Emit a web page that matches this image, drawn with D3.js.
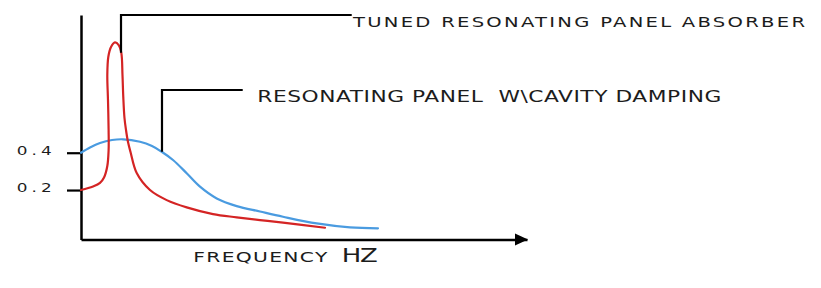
<!DOCTYPE html>
<html>
<head>
<meta charset="utf-8">
<script src="https://cdn.jsdelivr.net/npm/d3@7"></script>
<style>
    body { margin: 0; background: #fff; }
    svg text { font-family: "DejaVu Sans", sans-serif; fill: #1c1c1c; }
</style>
</head>
<body>
<svg id="chart"></svg>
<script>
// absorption coefficient vs frequency (frequency in arbitrary units 0-100)
const yTicks = [0.2, 0.4];

const tunedFreq = [0, 2.69, 4.26, 5.16, 5.90, 6.19, 6.19, 6.05, 5.90, 6.12, 6.73, 7.62, 8.45, 9.04, 9.30,
    9.48, 9.75, 10.09, 10.54, 11.10, 12.49, 15.47, 19.22, 23.70, 29.60, 34.91, 40.13, 45.29, 54.71];
const tunedAbs = [0.200, 0.219, 0.238, 0.267, 0.329, 0.414, 0.522, 0.683, 0.817, 0.913, 0.967, 0.991, 0.977, 0.935, 0.817,
    0.699, 0.586, 0.522, 0.457, 0.404, 0.291, 0.200, 0.146, 0.107, 0.071, 0.054, 0.039, 0.025, -0.002];

const dampedFreq = [0, 2.02, 4.26, 6.95, 9.42, 13.23, 15.92, 18.09, 20.63, 23.70, 26.68, 30.43,
    34.91, 40.13, 45.29, 52.85, 60.31, 66.59];
const dampedAbs = [0.400, 0.428, 0.452, 0.468, 0.472, 0.459, 0.436, 0.405, 0.361, 0.290, 0.218, 0.155,
    0.114, 0.085, 0.057, 0.021, 0.000, -0.005];

const seriesNames = ["TUNED RESONATING PANEL ABSORBER", "RESONATING PANEL  W\\CAVITY DAMPING"];
const xLabel = "FREQUENCY";
const xUnit = "HZ";

const width = 821, height = 288;
const stretch = 1.45; // glyphs in the original are extended

const svg = d3.select("#chart")
    .attr("width", width)
    .attr("height", height);

const x = d3.scaleLinear().domain([0, 100]).range([81, 527]);
const y = d3.scaleLinear().domain([-0.065, 1.138]).range([239.5, 15]);

// wide lettering: scale glyphs horizontally, then fit to the measured width
function wideText(sel, tx, ty, size, len, sx = stretch) {
    sel.attr("transform", `translate(${tx},${ty}) scale(${sx},1)`)
        .attr("x", 0)
        .attr("y", 0)
        .style("font-size", size + "px")
        .attr("textLength", len / sx)
        .attr("lengthAdjust", "spacing");
}

// y axis
const yAxis = svg.append("g")
    .attr("transform", `translate(${x(0)},0)`)
    .call(d3.axisLeft(y)
        .tickValues(yTicks)
        .tickFormat(d3.format(".1f"))
        .tickSize(14)
        .tickPadding(15)
        .tickSizeOuter(0));
yAxis.attr("font-family", null).attr("font-size", null);
yAxis.select(".domain").attr("stroke", "#000").attr("stroke-width", 2.5);
yAxis.selectAll(".tick line").attr("stroke", "#000").attr("stroke-width", 2.2);
yAxis.selectAll(".tick text")
    .attr("text-anchor", "start")
    .attr("dy", null)
    .each(function () { wideText(d3.select(this), 16.7 - x(0), 1.4, 12.5, 35, 1.35); });

// x axis with arrow
const xAxis = svg.append("g")
    .attr("transform", `translate(0,${y.range()[0]})`)
    .call(d3.axisBottom(x).tickValues([]).tickSizeOuter(0));
xAxis.select(".domain").attr("stroke", "#000").attr("stroke-width", 2.5);

const tip = x.range()[1] + 1;
svg.append("path")
    .attr("d", `M${tip - 13},${y.range()[0] - 6}L${tip},${y.range()[0]}L${tip - 13},${y.range()[0] + 6}Z`)
    .attr("fill", "#000");

svg.append("text").text(xLabel).call(wideText, 193.3, 262.3, 14, 134);
svg.append("text").text(xUnit).call(wideText, 341.7, 262.3, 20, 36, 1.3);

// curves
const line = d3.line()
    .x(d => x(d[0]))
    .y(d => y(d[1]))
    .curve(d3.curveCatmullRom.alpha(0.5));

const series = [
    { pts: d3.zip(dampedFreq, dampedAbs), color: "#4a9be0" },
    { pts: d3.zip(tunedFreq, tunedAbs), color: "#d42424" }
];

svg.selectAll(".curve")
    .data(series)
    .join("path")
    .attr("class", "curve")
    .attr("d", d => line(d.pts))
    .attr("fill", "none")
    .attr("stroke", d => d.color)
    .attr("stroke-width", 2.2)
    .style("stroke-linecap", "round");

// leader lines to labels
const notes = [
    { name: seriesNames[0], f: 8.97, a: 0.936, top: 1.138, end: 60.7, tx: 353, ty: 27.3, size: 13.5, len: 452 },
    { name: seriesNames[1], f: 18.16, a: 0.405, top: 0.736, end: 36.26, tx: 257.3, ty: 102, size: 15, len: 464 }
];

svg.selectAll(".leader")
    .data(notes)
    .join("path")
    .attr("class", "leader")
    .attr("d", d => `M${x(d.f)},${y(d.a)}V${y(d.top)}H${x(d.end)}`)
    .attr("fill", "none")
    .attr("stroke", "#000")
    .attr("stroke-width", 2.2);

svg.selectAll(".note")
    .data(notes)
    .join("text")
    .attr("class", "note")
    .style("white-space", "pre")
    .text(d => d.name)
    .each(function (d) { wideText(d3.select(this), d.tx, d.ty, d.size, d.len); });
</script>
</body>
</html>
